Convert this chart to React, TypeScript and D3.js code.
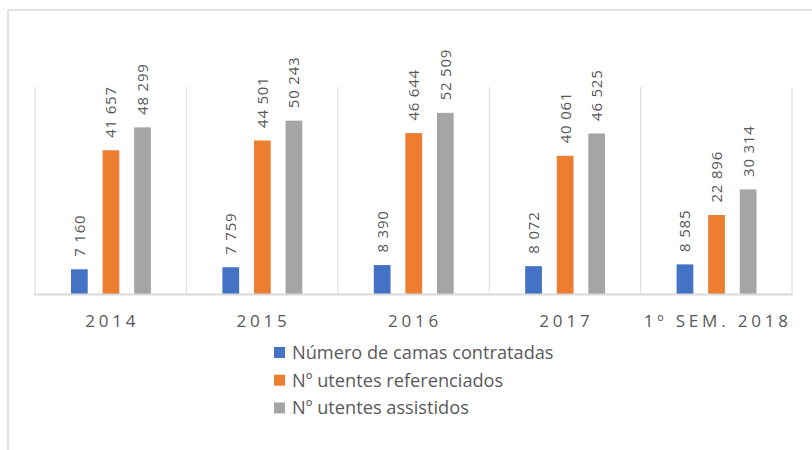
import React from "react";
import * as d3 from "d3";

const categories = ["2014", "2015", "2016", "2017", "1º SEM. 2018"];
const seriesNames = [
  "Número de camas contratadas",
  "Nº utentes referenciados",
  "Nº utentes assistidos",
];
const camas = [7160, 7759, 8390, 8072, 8585];
const referenciados = [41657, 44501, 46644, 40061, 22896];
const assistidos = [48299, 50243, 52509, 46525, 30314];
const colors = ["#4472c4", "#ed7d31", "#a5a5a5"];

const W = 812;
const H = 450;
const plot = { left: 35, right: 792, top: 87, bottom: 294 };

const fmt = (v: number) => {
  const s = String(v);
  return s.length > 3 ? s.slice(0, s.length - 3) + " " + s.slice(-3) : s;
};

export default function App() {
  const series = [camas, referenciados, assistidos];
  const x0 = d3.scaleBand<string>().domain(categories).range([plot.left, plot.right]);
  const x1 = d3
    .scaleBand<number>()
    .domain([0, 1, 2])
    .range([36, x0.bandwidth() - 36 + 0.5])
    .paddingInner(0.47);
  const y = d3.scaleLinear().domain([0, 60000]).range([plot.bottom, plot.top]);
  const text = "#595959";
  const grid = "#d9d9d9";
  const font = "'Open Sans', 'Liberation Sans', Arial, sans-serif";

  return (
    <svg
      width={W}
      height={H}
      style={{ position: "absolute", left: 0, top: 0, background: "#fff" }}
      fontFamily={font}
    >
      <rect x={0} y={0} width={W} height={H} fill="#fff" />
      <line x1={8} y1={10} x2={W} y2={10} stroke={grid} strokeWidth={1.5} />
      <line x1={8} y1={10} x2={8} y2={H} stroke={grid} strokeWidth={1.5} />

      {[...categories.map((c) => x0(c)!), plot.right].map((gx, i) => (
        <line
          key={"g" + i}
          x1={gx}
          x2={gx}
          y1={plot.top}
          y2={plot.bottom}
          stroke={grid}
          strokeWidth={1}
        />
      ))}

      {categories.map((c, ci) => (
        <g key={c} transform={`translate(${x0(c)},0)`}>
          {series.map((s, si) => {
            const bx = x1(si)!;
            const by = y(s[ci]);
            const cx = bx + x1.bandwidth() / 2;
            return (
              <g key={si}>
                <rect
                  x={bx}
                  y={by}
                  width={x1.bandwidth()}
                  height={plot.bottom - by}
                  fill={colors[si]}
                />
                <text
                  transform={`translate(${cx + 5.5},${by - 12.5}) rotate(-90)`}
                  fontSize={15}
                  letterSpacing={0.8}
                  fill={text}
                >
                  {fmt(s[ci])}
                </text>
              </g>
            );
          })}
          <text
            x={x0.bandwidth() / 2 + 1.5}
            y={326.5}
            textAnchor="middle"
            fontSize={17}
            letterSpacing={3.8}
            fill={text}
          >
            {c}
          </text>
        </g>
      ))}

      <line
        x1={plot.left - 1}
        x2={plot.right + 1}
        y1={plot.bottom + 0.5}
        y2={plot.bottom + 0.5}
        stroke={grid}
        strokeWidth={2}
      />

      {seriesNames.map((n, i) => (
        <g key={n} transform={`translate(274,${347 + i * 27.7})`}>
          <rect x={0} y={0} width={11} height={11} fill={colors[i]} />
          <text x={18} y={12} fontSize={18.2} fill={text}>
            {n}
          </text>
        </g>
      ))}
    </svg>
  );
}
